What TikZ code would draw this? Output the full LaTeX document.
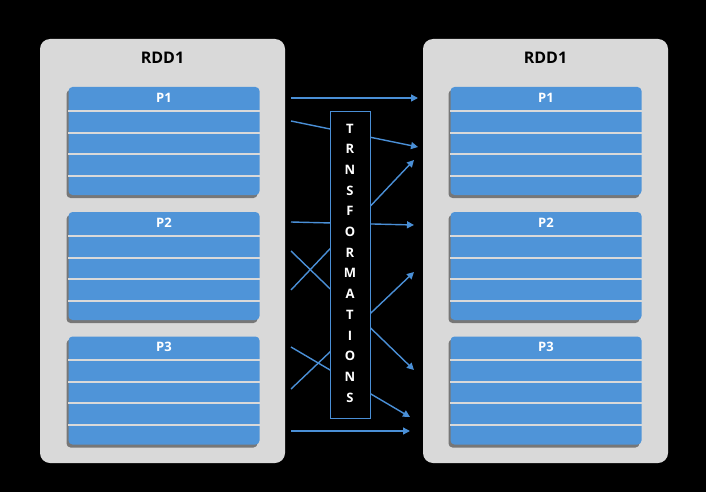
\documentclass[tikz,border=0pt]{standalone}
\usepackage{fontspec}
\setmainfont{Open Sans}
\usetikzlibrary{shadows,arrows.meta}
\definecolor{boxgray}{HTML}{D9D9D9}
\definecolor{partblue}{HTML}{4F94D8}
\definecolor{arrblue}{HTML}{4A8FD6}
\begin{document}
\begin{tikzpicture}[x=1pt,y=-1pt,
  container/.style={fill=boxgray,rounded corners=10pt,minimum width=245pt,minimum height=424pt,inner sep=0pt},
  part/.style={fill=partblue,rounded corners=4pt,minimum width=191pt,minimum height=108pt,inner sep=0pt,
    drop shadow={shadow xshift=-2pt,shadow yshift=-3pt,opacity=.45,fill=black}},
  sep/.style={draw=boxgray,line width=1.7pt},
  plabel/.style={text=white,font=\bfseries\fontsize{13}{15}\selectfont,inner sep=0pt},
  rddlabel/.style={text=black,font=\bfseries\fontsize{16}{18}\selectfont,inner sep=0pt},
  conn/.style={draw=arrblue,line width=1.4pt,-{Triangle[length=7pt,width=7pt]}},
  trbox/.style={draw=arrblue,fill=black,line width=1pt,minimum width=40pt,minimum height=306pt,inner sep=0pt},
  trtext/.style={text=white,align=center,font=\bfseries\fontsize{13}{20.7}\selectfont,inner sep=0pt}
]
\useasboundingbox[fill=black] (0,0) rectangle (706,492);
% containers
\node[container] (lc) at (162.5,251) {};
\node[container] (rc) at (545.5,251) {};
\node[rddlabel] (lrdd) at (162.5,58) {RDD1};
\node[rddlabel] (rrdd) at (545.5,58) {RDD1};
% partitions
\foreach \nm/\xx/\yy/\lab in {lp1/164/141/P1,lp2/164/266/P2,lp3/164/390.5/P3,rp1/546/141/P1,rp2/546/266/P2,rp3/546/390.5/P3}{
  \node[part] (\nm) at (\xx,\yy) {};
  \foreach \d in {24,46,67,89}{
    \draw[sep] ([yshift=-\d pt]\nm.north west) -- ([yshift=-\d pt]\nm.north east);
  }
  \node[plabel] (\nm lab) at ([yshift=-11pt]\nm.north) {\lab};
}
% connector end points
\coordinate (a1s) at (291,98);  \coordinate (a1e) at (418,98);
\coordinate (a2s) at (291,121); \coordinate (a2e) at (418,147);
\coordinate (a3s) at (291,290); \coordinate (a3e) at (414,160);
\coordinate (a4s) at (291,222); \coordinate (a4e) at (414,225);
\coordinate (a5s) at (291,251); \coordinate (a5e) at (414,370);
\coordinate (a6s) at (291,389); \coordinate (a6e) at (414,272);
\coordinate (a7s) at (291,347); \coordinate (a7e) at (410,417);
\coordinate (a8s) at (291,431); \coordinate (a8e) at (410,431);
\foreach \i in {1,...,8}{
  \draw[conn] (a\i s) -- (a\i e);
}
% transformations box
\node[trbox] (tr) at (350,265) {};
\node[trtext] (trt) at (350,263) {T\\R\\N\\S\\F\\O\\R\\M\\A\\T\\I\\O\\N\\S};
\end{tikzpicture}
\end{document}
